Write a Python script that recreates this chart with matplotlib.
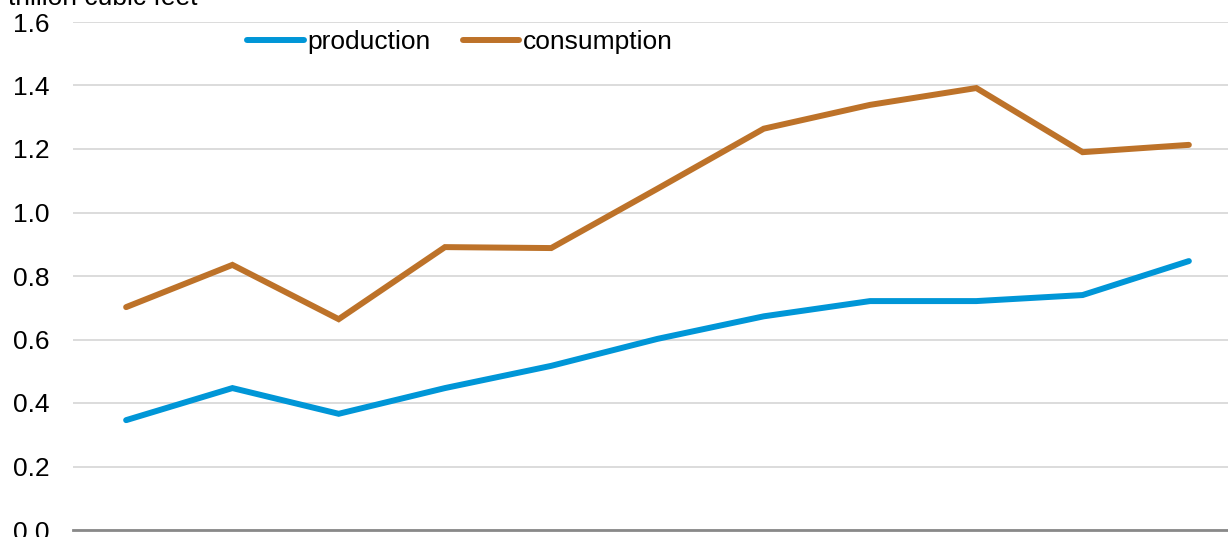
import numpy as np
import matplotlib.pyplot as plt

plt.rcParams['font.family'] = ['Liberation Sans', 'DejaVu Sans']

# category positions (no labels shown on the original chart)
years = ['2010', '2011', '2012', '2013', '2014', '2015', '2016', '2017', '2018', '2019', '2020']
production = [0.346, 0.447, 0.366, 0.447, 0.517, 0.602, 0.673, 0.721, 0.721, 0.740, 0.847]
consumption = [0.702, 0.835, 0.664, 0.891, 0.888, 1.075, 1.264, 1.339, 1.392, 1.190, 1.213]

blue = '#0096D7'
brown = '#BD7229'
fs = 19

fig = plt.figure(figsize=(12.28, 5.37), dpi=100)
ax = fig.add_axes([73 / 1228, 7 / 537, 1169 / 1228, 508 / 537])

x = np.arange(len(years))
ax.plot(x, production, color=blue, lw=4.3, solid_capstyle='round',
        solid_joinstyle='miter', label='production', zorder=3)
ax.plot(x, consumption, color=brown, lw=4.3, solid_capstyle='round',
        solid_joinstyle='miter', label='consumption', zorder=3)

ax.set_xlim(-0.5, len(years) - 0.5)
ax.set_ylim(0, 1.6)
ax.set_yticks(np.arange(0, 1.61, 0.2))
ax.set_yticklabels([f'{v:.1f}' for v in np.arange(0, 1.61, 0.2)], fontsize=fs)
ax.set_xticks([])
ax.tick_params(axis='y', length=0, pad=17)
ax.grid(axis='y', color='#D9D9D9', lw=1.3, zorder=0)
ax.set_axisbelow(True)
for side in ['top', 'right', 'left']:
    ax.spines[side].set_visible(False)
ax.spines['bottom'].set_color('#898989')
ax.spines['bottom'].set_linewidth(2)
ax.spines['bottom'].set_zorder(4)

fig.text(8 / 1228, 1 - 5 / 537, 'trillion cubic feet', fontsize=fs,
         ha='left', va='baseline')

ax.legend(loc='center left', bbox_to_anchor=((247 - 73) / 1169, (530 - 42) / 508),
          ncol=2, frameon=False, fontsize=fs, handlelength=2.15,
          handletextpad=0.15, columnspacing=1.2, borderaxespad=0, borderpad=0)

fig.savefig('out.png', dpi=100)
